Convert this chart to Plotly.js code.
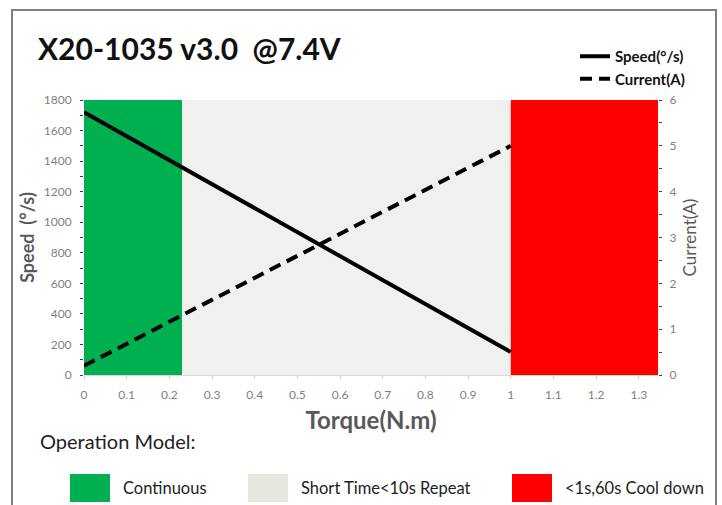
<!DOCTYPE html>
<html>
<head>
<meta charset="utf-8">
<script src="https://cdn.plot.ly/plotly-3.0.1.min.js"></script>
<style>html,body{margin:0;padding:0;background:#fff;}#chart{width:722px;height:505px;}</style>
</head>
<body>
<div id="chart"></div>
<script>
// ---- data ----
const torque = [0, 1];
const speed = [1720, 150];
const current = [0.2, 5];
const zoneStart = [0, 0.23, 1];
const zoneEnd = [0.23, 1, 1.345];
const zoneNames = ["Continuous", "Short Time<10s Repeat", "<1s,60s Cool down"];
const zoneColors = ["#00b050", "#f0f0ef", "#ff0000"];
const zoneLegendColors = ["#00b050", "#e6e5de", "#ff0000"];
const xTickVals = [0,0.1,0.2,0.3,0.4,0.5,0.6,0.7,0.8,0.9,1,1.1,1.2,1.3];

// ---- layout helpers (pixel -> paper) ----
const W = 722, H = 505, L = 84, R = 64, T = 100, B = 130;
const PW = W - L - R, PH = H - T - B;
const px = v => (v - L) / PW;
const py = v => (H - B - v) / PH;

const FONT = "Lato, 'Open Sans', sans-serif";
const GRAY = "#7f7f7f";

const shapes = [];
zoneStart.forEach((s, i) => {
  shapes.push({type: "rect", xref: "x", yref: "y", x0: s, x1: zoneEnd[i], y0: 0, y1: 1800,
    fillcolor: zoneColors[i], line: {width: 0}, layer: "below"});
});
// outer frame
shapes.push({type: "rect", xref: "paper", yref: "paper", x0: px(12), x1: px(716), y0: py(530), y1: py(10),
  line: {color: "#808080", width: 2}, fillcolor: "rgba(0,0,0,0)"});

const annotations = [
  {xref: "paper", yref: "paper", x: px(36), y: py(48), xanchor: "left", yanchor: "middle", showarrow: false,
   text: "<b>X20-1035 v3.0  @7.4V</b>", font: {family: FONT, size: 30, color: "#111"}},
  {xref: "paper", yref: "paper", x: px(38), y: py(441), xanchor: "left", yanchor: "middle", showarrow: false,
   text: "Operation Model:", font: {family: FONT, size: 20, color: "#222"}}
];
const boxX = [70, 248, 512];
zoneNames.forEach((n, i) => {
  shapes.push({type: "rect", xref: "paper", yref: "paper", x0: px(boxX[i]), x1: px(boxX[i] + 40),
    y0: py(502), y1: py(474), fillcolor: zoneLegendColors[i], line: {width: 0}});
  annotations.push({xref: "paper", yref: "paper", x: px(boxX[i] + 51), y: py(488), xanchor: "left", yanchor: "middle",
    showarrow: false, text: n, font: {family: FONT, size: 16.5, color: "#222"}});
});

const traces = [
  {x: torque, y: speed, mode: "lines", name: "Speed(°/s)", line: {color: "#000", width: 4}, yaxis: "y"},
  {x: torque, y: current, mode: "lines", name: "Current(A)", line: {color: "#000", width: 4, dash: "12px,7px"}, yaxis: "y2"}
];

const layout = {
  width: W, height: H,
  margin: {l: L, r: R, t: T, b: B, pad: 0},
  paper_bgcolor: "#fff", plot_bgcolor: "#fff",
  showlegend: true,
  legend: {x: px(575), y: py(40), xanchor: "left", yanchor: "top", bgcolor: "rgba(0,0,0,0)",
    font: {family: FONT, size: 15, color: "#111", weight: "bold"}, tracegroupgap: 0, itemwidth: 30},
  xaxis: {range: [0, 1.345], tickvals: xTickVals, ticks: "outside", ticklen: 3, tickcolor: "#d0d0d0",
    showgrid: false, zeroline: false, showline: true, linecolor: "#d9d9d9",
    ticklabelstandoff: 6,
    tickfont: {family: FONT, size: 12, color: GRAY},
    title: {text: "<b>Torque(N.m)</b>", font: {family: FONT, size: 24, color: "#595959"}, standoff: 10}},
  yaxis: {range: [0, 1800], dtick: 200, ticks: "outside", ticklen: 3, tickcolor: "#404040",
    minor: {dtick: 100, ticks: "outside", ticklen: 3, tickcolor: "#404040"},
    showgrid: false, zeroline: false, showline: false, ticklabelstandoff: 6,
    tickfont: {family: FONT, size: 12, color: GRAY},
    title: {text: "<b>Speed  (°/s)</b>", font: {family: FONT, size: 18, color: "#595959"}, standoff: 4}},
  yaxis2: {range: [0, 6], dtick: 1, overlaying: "y", side: "right", ticks: "outside", ticklen: 3, tickcolor: "#404040",
    minor: {dtick: 0.5, ticks: "outside", ticklen: 3, tickcolor: "#404040"},
    showgrid: false, zeroline: false, showline: false, ticklabelstandoff: 5,
    tickfont: {family: FONT, size: 12, color: GRAY},
    title: {text: "Current(A)", font: {family: FONT, size: 17, color: "#595959"}, standoff: 8}},
  shapes: shapes,
  annotations: annotations
};

Plotly.newPlot("chart", traces, layout, {displayModeBar: false, staticPlot: true});
</script>
</body>
</html>
